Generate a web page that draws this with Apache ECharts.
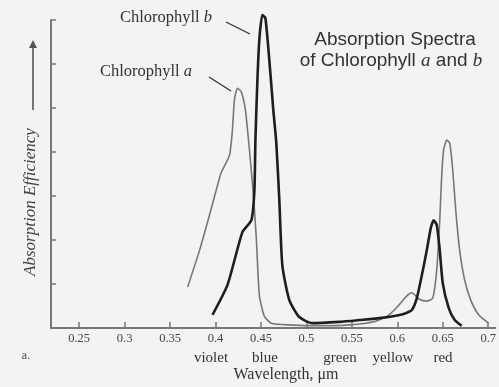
<!DOCTYPE html>
<html><head><meta charset="utf-8">
<script src="https://cdn.jsdelivr.net/npm/echarts@6/dist/echarts.min.js"></script>
<style>html,body{margin:0;padding:0;background:#f3f3f1}#c{width:499px;height:387px}</style>
</head><body><div id="c"></div>
<script>
// wavelength (µm) and absorption efficiency (tick units)
const chlBWave = [0.3967,0.4132,0.4296,0.4395,0.4428,0.4439,0.4461,0.4482,0.4515,0.4548,0.4592,0.4636,0.4669,0.4702,0.4735,0.4811,0.4921,0.5064,0.536,0.558,0.583,0.607,0.616,0.6215,0.627,0.6325,0.6368,0.6401,0.6434,0.6467,0.65,0.6566,0.6632,0.6708];
const chlBVal  = [0.30,0.98,2.18,2.45,3.14,4.27,5.64,6.55,7.11,7.05,6.09,4.95,4.20,2.91,1.43,0.64,0.25,0.11,0.14,0.18,0.23,0.32,0.41,0.68,1.20,1.77,2.27,2.45,2.34,1.77,1.02,0.45,0.18,0.05];
const chlAWave = [0.3693,0.3825,0.3934,0.4044,0.4066,0.4154,0.4186,0.4208,0.4241,0.4285,0.4329,0.4373,0.4417,0.445,0.4482,0.4537,0.4614,0.481,0.514,0.547,0.574,0.591,0.6018,0.6105,0.616,0.6237,0.6325,0.639,0.6434,0.6467,0.6489,0.651,0.6544,0.6577,0.661,0.6643,0.6686,0.6741,0.6807,0.6895,0.7004];
const chlAVal  = [0.93,1.77,2.57,3.41,3.55,3.93,4.5,5.18,5.45,5.36,4.95,4.05,3.02,2.0,0.75,0.27,0.11,0.07,0.05,0.07,0.14,0.30,0.52,0.73,0.80,0.66,0.61,0.68,1.32,2.45,3.48,4.05,4.27,4.20,3.59,2.68,1.77,1.09,0.64,0.30,0.11];
const xTicks = [0.25,0.3,0.35,0.4,0.45,0.5,0.55,0.6,0.65,0.7];
const yTicks = [0,1,2,3,4,5,6,7];
const colorNames = ['violet','blue','green','yellow','red'];
const colorNamePos = [211,265,340,393,443];

const serif = '"Liberation Serif","DejaVu Serif",serif';
const chart = echarts.init(document.getElementById('c'));
const labelRich = {n:{font:'16.5px '+serif,fill:'#333'},i:{font:'italic 16.5px '+serif,fill:'#333'}};
const graphic = [
  {type:'text',x:166,y:18,style:{rich:labelRich,text:'{n|Chlorophyll }{i|b}',align:'center',verticalAlign:'middle'}},
  {type:'line',shape:{x1:226,y1:22,x2:250,y2:34},style:{stroke:'#333',lineWidth:1.3}},
  {type:'text',x:146,y:72,style:{rich:labelRich,text:'{n|Chlorophyll }{i|a}',align:'center',verticalAlign:'middle'}},
  {type:'line',shape:{x1:209,y1:77,x2:231,y2:91},style:{stroke:'#333',lineWidth:1.3}},
  {type:'text',x:395,y:40,style:{text:'Absorption Spectra',font:'19px "Liberation Sans",sans-serif',fill:'#333',align:'center',verticalAlign:'middle'}},
  {type:'text',x:391,y:61,style:{rich:{n:{font:'19px "Liberation Sans",sans-serif',fill:'#333'},i:{font:'italic 19px "Liberation Serif",serif',fill:'#333'}},text:'{n|of Chlorophyll }{i|a}{n| and }{i|b}',align:'center',verticalAlign:'middle'}},
  {type:'line',shape:{x1:33,y1:110,x2:33,y2:46},style:{stroke:'#666',lineWidth:1.8}},
  {type:'polygon',shape:{points:[[29,48],[37,48],[33,40]]},style:{fill:'#555'}},
  {type:'text',x:31,y:202,rotation:Math.PI/2,style:{text:'Absorption Efficiency',font:'italic 17px '+serif,fill:'#444',align:'center',verticalAlign:'middle'}},
  {type:'text',x:26,y:356,style:{text:'a.',font:'12px '+serif,fill:'#444',align:'center',verticalAlign:'middle'}},
  {type:'text',x:286,y:375,style:{text:'Wavelength, μm',font:'16px '+serif,fill:'#333',align:'center',verticalAlign:'middle'}}
];
colorNames.forEach((n,i)=>graphic.push({type:'text',x:colorNamePos[i],y:358,style:{text:n,font:'15px '+serif,fill:'#333',align:'center',verticalAlign:'middle'}}));

chart.setOption({
  backgroundColor:'#f3f3f1',
  animation:false,
  grid:{left:51,right:2,top:20,bottom:59},
  xAxis:{type:'value',min:0.219,max:0.708,
    axisLine:{lineStyle:{color:'#777',width:2}},
    axisTick:{inside:true,length:6,customValues:xTicks,lineStyle:{color:'#777',width:1.5}},
    axisLabel:{customValues:xTicks,color:'#444',fontFamily:serif,fontSize:12.5,margin:4},
    splitLine:{show:false}},
  yAxis:{type:'value',min:0,max:7,interval:1,
    axisLine:{show:true,lineStyle:{color:'#777',width:2}},
    axisTick:{show:true,inside:true,length:5,lineStyle:{color:'#777',width:1.5}},
    axisLabel:{show:false},splitLine:{show:false}},
  series:[
    {type:'line',name:'Chlorophyll a',data:chlAWave.map((w,i)=>[w,chlAVal[i]]),showSymbol:false,smooth:0.2,clip:false,
     lineStyle:{color:'#777',width:1.6}},
    {type:'line',name:'Chlorophyll b',data:chlBWave.map((w,i)=>[w,chlBVal[i]]),showSymbol:false,smooth:0.2,clip:false,
     lineStyle:{color:'#1e1e1e',width:2.6}}
  ],
  graphic:graphic
});
</script></body></html>
